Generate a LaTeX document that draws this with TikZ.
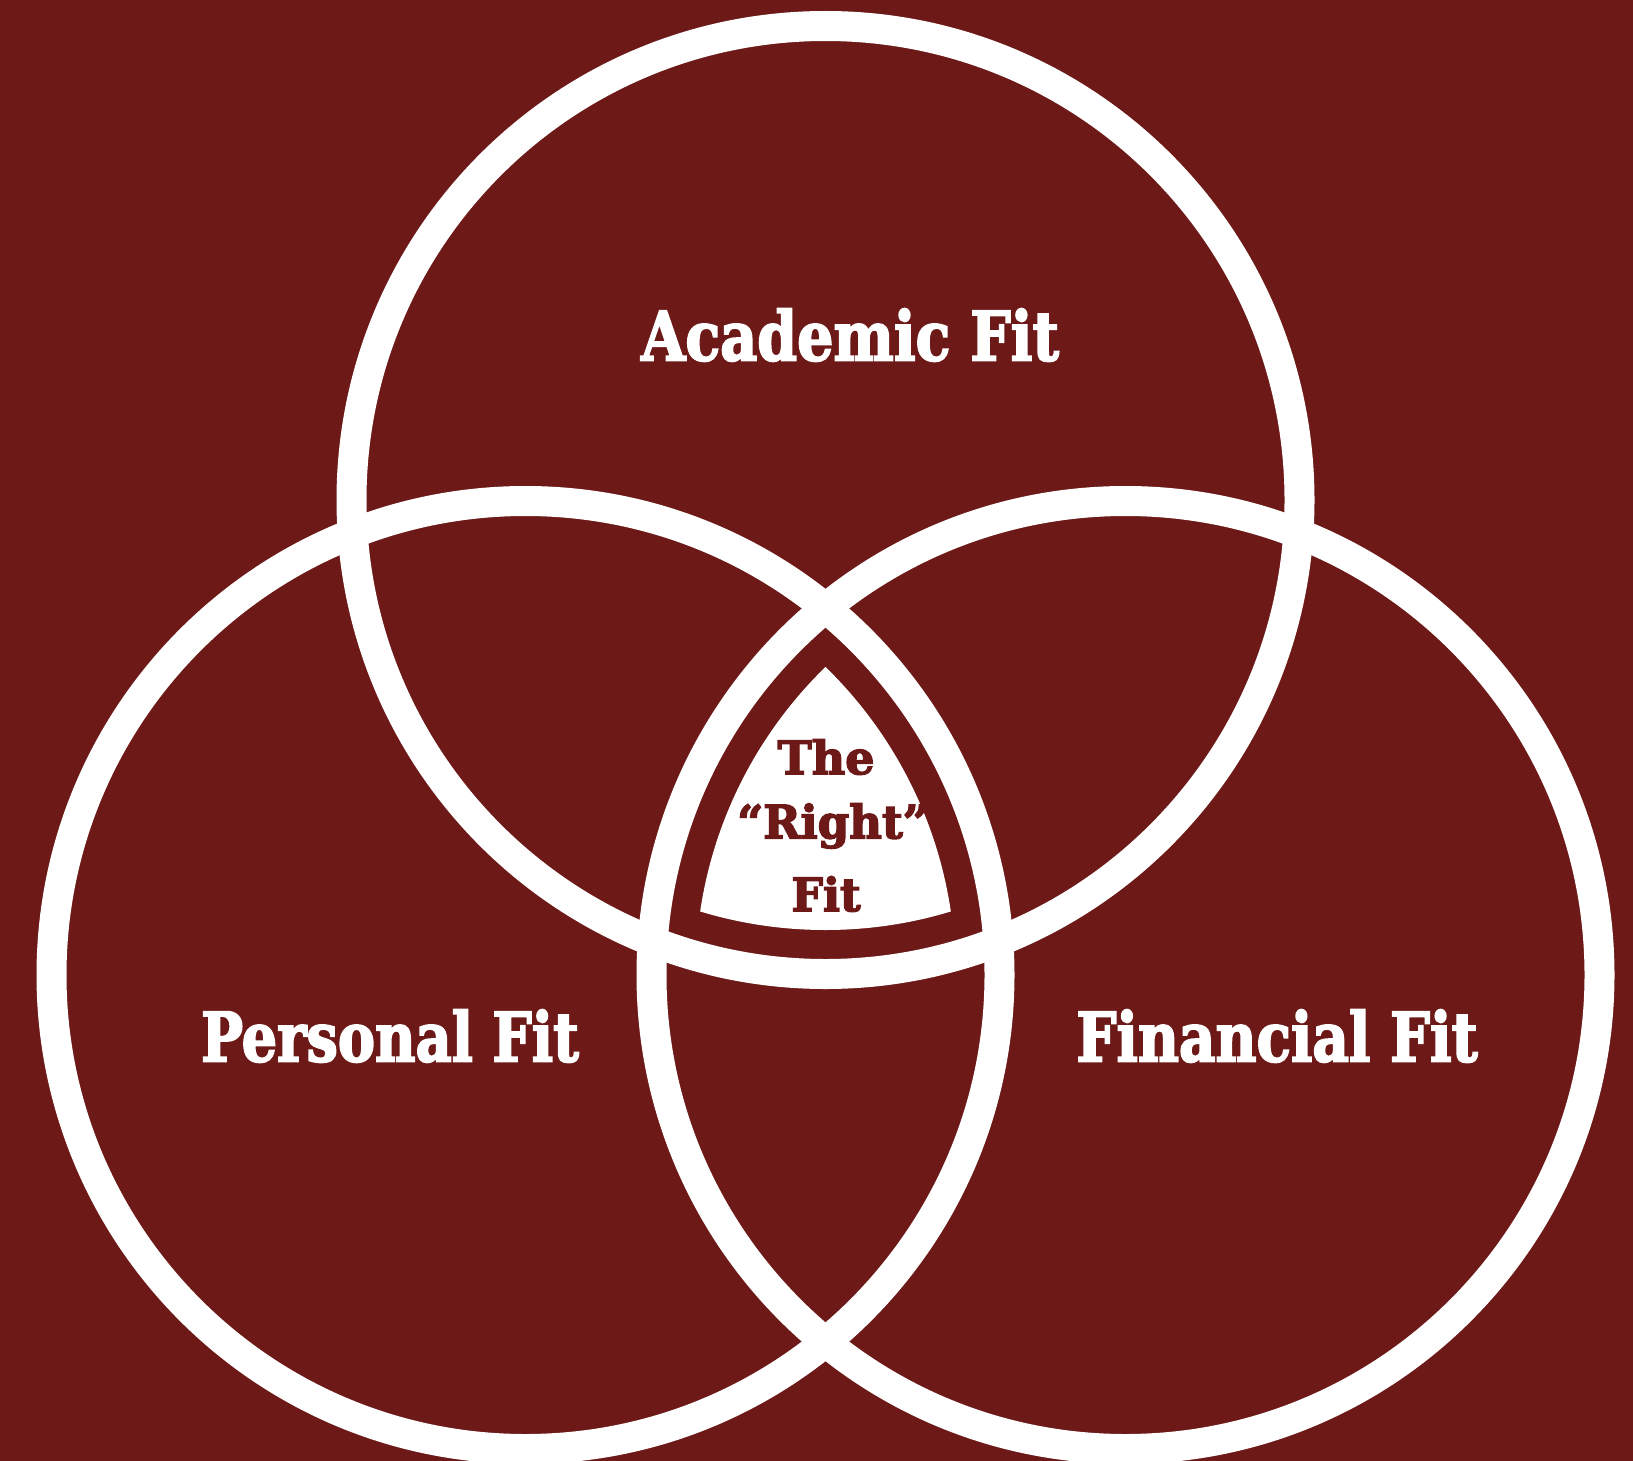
\documentclass[tikz,border=0pt]{standalone}
\usepackage{fontspec}
\newfontfamily\slab[BoldFeatures={FakeBold=3}]{DejaVu Serif}
\definecolor{maroon}{HTML}{6C1917}
\tikzset{
  ring/.style={draw=white, line width=30pt},
  biglabel/.style={text=white, font=\slab\bfseries\fontsize{68}{80}\selectfont, inner sep=0pt, anchor=center},
  innerlabel/.style={text=maroon, font=\slab\bfseries\fontsize{46}{68}\selectfont, inner sep=0pt, align=center},
}
\begin{document}
\begin{tikzpicture}[x=1pt,y=-1pt]
\useasboundingbox (0,0) rectangle (1633,1461);
\fill[maroon] (0,0) rectangle (1633,1461);
\coordinate (ct) at (825.5,500);
\coordinate (cl) at (525.5,975);
\coordinate (cr) at (1125.5,975);
\begin{scope}
  \clip (ct) circle (430);
  \clip (cl) circle (430);
  \fill[white] (cr) circle (430);
\end{scope}
\draw[ring] (ct) circle (474);
\draw[ring] (cl) circle (474);
\draw[ring] (cr) circle (474);
\node[biglabel] (acad) at (850,335) {\scalebox{0.84}[1]{Academic Fit}};
\node[biglabel] (pers) at (390,1036) {\scalebox{0.82}[1]{Personal Fit}};
\node[biglabel] (fin) at (1277,1036) {\scalebox{0.83}[1]{Financial Fit}};
\node[innerlabel] (the) at (826,757) {The};
\node[innerlabel] (right) at (833,826) {\scalebox{0.98}[1]{“Right”}};
\node[innerlabel] (fit) at (826,894) {\scalebox{0.97}[1]{Fit}};
\end{tikzpicture}
\end{document}
